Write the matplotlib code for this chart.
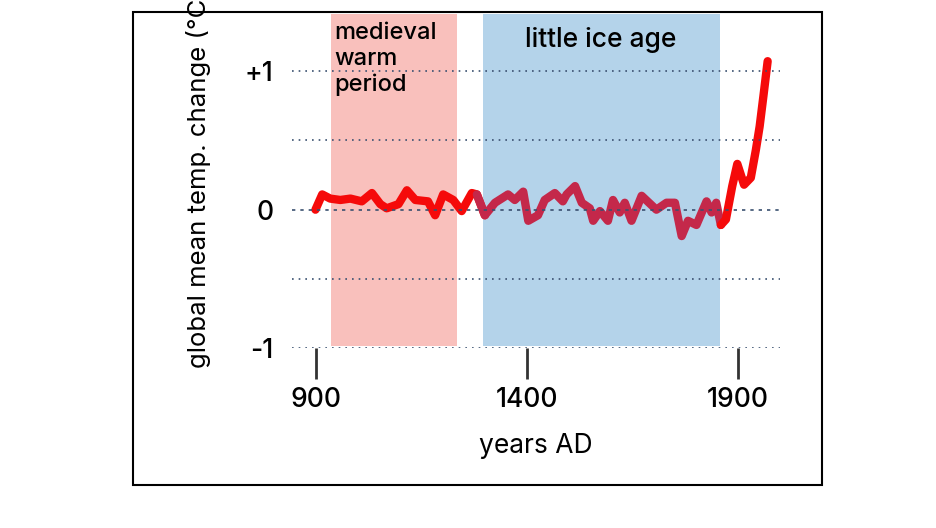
import numpy as np
import matplotlib
matplotlib.use("Agg")
import matplotlib.pyplot as plt
from matplotlib.patches import Rectangle

plt.rcParams['font.family'] = ['Inter', 'Liberation Sans', 'DejaVu Sans']
plt.rcParams['font.weight'] = 500

# -----------------------
# Data
# -----------------------
years = [898, 914, 933, 957, 981, 1008, 1032, 1052, 1067, 1095, 1115, 1135, 1165, 1182,
         1201, 1225, 1245, 1269, 1281, 1300, 1324, 1355, 1371, 1391, 1403, 1426, 1442,
         1466, 1485, 1494, 1514, 1530, 1549, 1557, 1573, 1592, 1604, 1620, 1632, 1648,
         1672, 1707, 1731, 1751, 1767, 1782, 1802, 1826, 1838, 1849, 1860, 1872, 1887,
         1899, 1915, 1931, 1943, 1952, 1961, 1971]
temps = [0.0, 0.11, 0.08, 0.07, 0.08, 0.06, 0.12, 0.04, 0.01, 0.04, 0.14, 0.07, 0.06, -0.04,
         0.11, 0.07, -0.01, 0.12, 0.11, -0.04, 0.05, 0.11, 0.07, 0.13, -0.08, -0.04, 0.07,
         0.12, 0.06, 0.11, 0.17, 0.05, 0.01, -0.08, -0.01, -0.08, 0.07, -0.02, 0.05, -0.08,
         0.10, 0.0, 0.05, 0.05, -0.19, -0.08, -0.11, 0.06, -0.02, 0.05, -0.11, -0.07, 0.17,
         0.33, 0.18, 0.23, 0.43, 0.60, 0.82, 1.07]

medieval = (935, 1234)
ice_age = (1296, 1857)

years = np.array(years)
temps = np.array(temps)

# -----------------------
# Figure
# -----------------------
fig = plt.figure(figsize=(9.36, 5.28), dpi=100)
fig.patches.append(Rectangle((0.142, 0.081), 0.736, 0.896, transform=fig.transFigure,
                             fill=False, edgecolor="black", linewidth=1.5))
ax = fig.add_axes([0.31, 0.34, 0.525, 0.644])
ax.set_xlim(838, 2004)
ax.set_ylim(-1.0, 1.45)

ax.fill_between(medieval, -0.98, 1.41, color="#f9c0bc", zorder=1, linewidth=0)
ax.fill_between(ice_age, -0.98, 1.41, color="#b4d3ea", zorder=1, linewidth=0)

# line: red outside the little ice age, darker where it crosses the blue band
inside = (years >= ice_age[0]) & (years <= ice_age[1])
i0 = np.argmax(inside)
i1 = len(inside) - np.argmax(inside[::-1])
ax.plot(years[:i0 + 1], temps[:i0 + 1], color="#f50a0a", lw=6, zorder=2, solid_capstyle="round")
ax.plot(years[i0 - 1:i1 + 1], temps[i0 - 1:i1 + 1], color="#c4284a", lw=6, zorder=2, solid_capstyle="round")
ax.plot(years[i1:], temps[i1:], color="#f50a0a", lw=6, zorder=3, solid_capstyle="round")

for yv in [1, 0.5, 0, -0.5, -1]:
    ax.plot([842, 2000], [yv, yv], ls=(0, (1, 3)) if yv else (0, (2, 3)),
            color="#3a5070", lw=1.2, zorder=4)

for s in ax.spines.values():
    s.set_visible(False)
ax.set_xticks([900, 1400, 1900])
ax.set_yticks([1, 0, -1])
ax.set_yticklabels(["+1", "0", "-1"])
ax.tick_params(axis="x", length=22, width=2, color="#333333", labelsize=19, pad=6)
ax.tick_params(axis="y", length=0, labelsize=19, pad=12)
ax.set_xlabel("years AD", fontsize=19, labelpad=14)
ax.set_ylabel("global mean temp. change (°C)", fontsize=18.5, labelpad=24)

ax.text(942, 1.35, "medieval\nwarm\nperiod", fontsize=17, va="top", ha="left", linespacing=1.2)
ax.text(1575, 1.22, "little ice age", fontsize=19, va="center", ha="center")

plt.savefig("out.png", dpi=100)
